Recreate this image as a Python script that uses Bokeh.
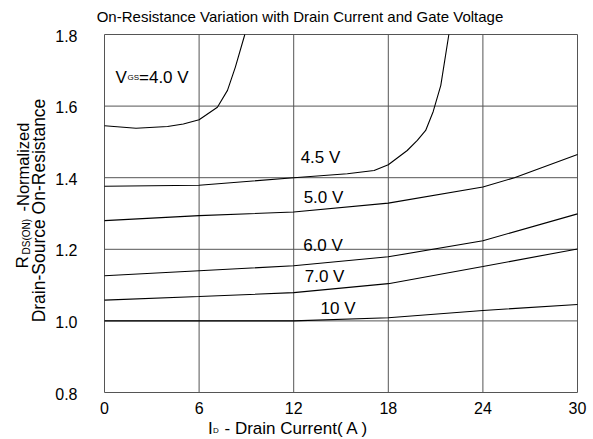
from math import pi
from bokeh.plotting import figure
from bokeh.models import Label, Range1d
from bokeh.core.properties import value
from bokeh.embed import file_html
from bokeh.resources import INLINE

# ---- data ----
x_ticks = [0, 6, 12, 18, 24, 30]
y_ticks = [0.8, 1.0, 1.2, 1.4, 1.6, 1.8]
x_tick_labels = ["0", "6", "12", "18", "24", "30"]
y_tick_labels = ["0.8", "1.0", "1.2", "1.4", "1.6", "1.8"]

id_40 = [0, 2, 4, 5, 6, 7.16, 7.8, 8.3, 8.9]
r_40 = [1.545, 1.538, 1.543, 1.55, 1.562, 1.597, 1.644, 1.709, 1.80]

id_45 = [0, 6, 12, 15.4, 17.1, 18, 19.2, 19.84, 20.37, 20.85, 21.33, 21.84]
r_45 = [1.376, 1.379, 1.400, 1.411, 1.420, 1.436, 1.476, 1.504, 1.532, 1.585, 1.658, 1.80]

id_50 = [0, 6, 12, 18, 24, 26, 30]
r_50 = [1.280, 1.294, 1.304, 1.329, 1.374, 1.40, 1.465]

id_60 = [0, 6, 12, 18, 24, 30]
r_60 = [1.126, 1.14, 1.154, 1.179, 1.224, 1.299]

id_70 = [0, 6, 12, 18, 24, 30]
r_70 = [1.058, 1.068, 1.079, 1.104, 1.152, 1.201]

id_10 = [0, 6, 12, 18, 24, 30]
r_10 = [1.0, 1.0, 1.0, 1.009, 1.029, 1.046]

series = [(id_40, r_40), (id_45, r_45), (id_50, r_50),
          (id_60, r_60), (id_70, r_70), (id_10, r_10)]

curve_labels = ["4.5 V", "5.0 V", "6.0 V", "7.0 V", "10 V"]
curve_label_x = [12.44, 12.63, 12.6, 12.7, 13.7]
curve_label_y = [1.457, 1.346, 1.210, 1.125, 1.035]

FONT = "Liberation Sans"
W, H = 593, 439
# plot box location on the canvas (pixels)
BOX_L, BOX_R, BOX_T, BOX_B = 104, 577, 34, 392

x0, x1 = x_ticks[0], x_ticks[-1]
y0, y1 = y_ticks[0], y_ticks[-1]
sx = (BOX_R - BOX_L) / (x1 - x0)
sy = (BOX_B - BOX_T) / (y1 - y0)

# the frame spans the whole canvas so that all texts stay inside it
p = figure(width=W, height=H, output_backend="svg", toolbar_location=None,
           x_axis_type=None, y_axis_type=None,
           x_range=Range1d(x0 - BOX_L / sx, x1 + (W - BOX_R) / sx),
           y_range=Range1d(y0 - (H - BOX_B) / sy, y1 + BOX_T / sy),
           min_border=0)
p.outline_line_color = None
p.background_fill_color = "white"
p.border_fill_color = "white"
p.xgrid.visible = False
p.ygrid.visible = False

GRID = "#555555"
# grid lines (outer ones form the plot box)
p.segment(x0=x_ticks, y0=[y0] * len(x_ticks), x1=x_ticks, y1=[y1] * len(x_ticks),
          line_color=GRID, line_width=1)
p.segment(x0=[x0] * len(y_ticks), y0=y_ticks, x1=[x1] * len(y_ticks), y1=y_ticks,
          line_color=GRID, line_width=1)

# tick labels
p.text(x=x_ticks, y=[y0] * len(x_ticks), text=x_tick_labels,
       text_align="center", text_baseline="top", y_offset=9,
       text_font=value(FONT), text_font_size="16px", text_color="black")
p.text(x=[x0] * len(y_ticks), y=y_ticks, text=y_tick_labels,
       text_align="right", text_baseline="middle", x_offset=-27, y_offset=1,
       text_font=value(FONT), text_font_size="16px", text_color="black")

for xs, ys in series:
    p.line(xs, ys, line_color="black", line_width=1.1)


def lab(text, x, y, size, **kw):
    p.add_layout(Label(x=x, y=y, text=text, text_font=FONT,
                       text_font_size=size, text_color="black", **kw))


def slab(text, px, py, size, **kw):
    # label positioned in canvas pixels (from top-left)
    lab(text, px, H - py, size, x_units="screen", y_units="screen", **kw)


for t, x, y in zip(curve_labels, curve_label_x, curve_label_y):
    lab(t, x, y, "17px", text_align="left", text_baseline="middle")

# V_GS = 4.0 V
slab("V", 115, 76.5, "17px", text_align="left", text_baseline="alphabetic")
slab("GS", 127, 77, "8px", text_align="left", text_baseline="alphabetic")
slab("=4.0 V", 138.5, 76.5, "17px", text_align="left", text_baseline="alphabetic")

# title
slab("On-Resistance Variation with Drain Current and Gate Voltage", 299.5, 15.5,
     "15px", text_align="center", text_baseline="middle")

# x axis label
slab("I", 207.5, 428, "17px", text_align="left", text_baseline="alphabetic")
slab("D", 212.5, 430, "8px", text_align="left", text_baseline="alphabetic")
slab("- Drain Current( A )", 224, 428, "17px", text_align="left",
     text_baseline="alphabetic")

# y axis label (two rotated lines)
slab("R", 22, 268, "17px", text_align="left", text_baseline="middle", angle=pi / 2)
slab("DS(ON)", 26, 254, "10px", text_align="left", text_baseline="middle",
     angle=pi / 2)
slab("-Normalized", 22, 211, "16.5px", text_align="left", text_baseline="middle",
     angle=pi / 2)
slab("Drain-Source On-Resistance", 38, 210, "17.5px", text_align="center",
     text_baseline="middle", angle=pi / 2)

open("out.html", "w").write(file_html(p, INLINE))
